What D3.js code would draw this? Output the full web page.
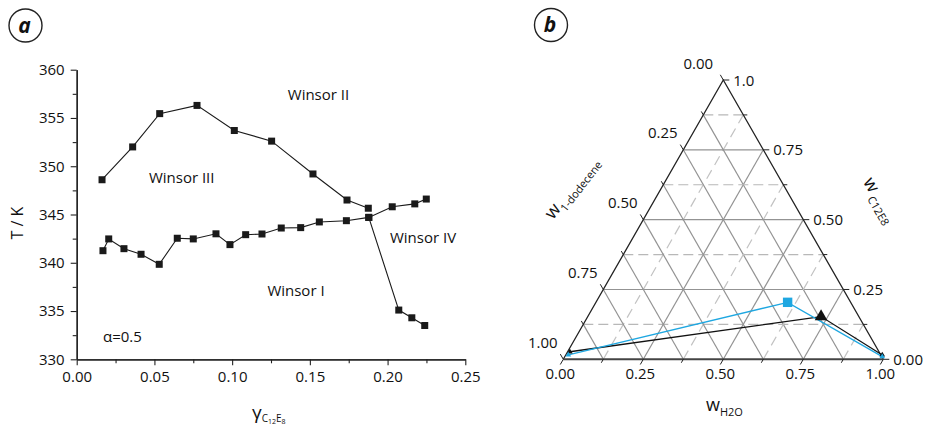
<!DOCTYPE html>
<html>
<head>
<meta charset="utf-8">
<script src="https://cdn.jsdelivr.net/npm/d3@7"></script>
<style>
  body { margin: 0; background: #fff; }
  svg { font-family: "Open Sans", sans-serif; fill: #111; }
</style>
</head>
<body>
<svg id="chart" width="930" height="425"></svg>
<script>
// panel a: phase boundaries T vs gamma
const upperX = [0.0163, 0.036, 0.0534, 0.0774, 0.1014, 0.1254, 0.152, 0.1739, 0.1876];
const upperT = [348.6, 352.0, 355.45, 356.3, 353.7, 352.6, 349.2, 346.5, 345.65];
const lowerX = [0.0169, 0.0206, 0.0304, 0.0414, 0.0531, 0.0647, 0.075, 0.0896, 0.0986, 0.1087,
                0.1192, 0.1316, 0.1441, 0.1561, 0.1735, 0.1879, 0.203, 0.2175, 0.2249];
const lowerT = [341.25, 342.47, 341.46, 340.88, 339.84, 342.54, 342.47, 343.0, 341.88, 342.91,
                342.98, 343.6, 343.64, 344.23, 344.36, 344.7, 345.8, 346.1, 346.6];
const dropX = [0.1879, 0.2072, 0.2156, 0.2239];
const dropT = [344.7, 335.1, 334.3, 333.5];
const xTicksA = [0, 0.05, 0.1, 0.15, 0.2, 0.25];
const yTicksA = [330, 335, 340, 345, 350, 355, 360];
const regionLabels = ["Winsor II", "Winsor III", "Winsor IV", "Winsor I"];

// panel b: ternary, compositions as [wH2O, wC12E8]
const blueH2O = [0.008, 0.599, 0.992];
const blueC12E8 = [0.0155, 0.204, 0.0094];
const blackH2O = [0.007, 0.729, 0.989];
const blackC12E8 = [0.027, 0.153, 0.0155];
const ternTicks = [0, 0.25, 0.5, 0.75, 1];
const bottomLabels = ["0.00", "0.25", "0.50", "0.75", "1.00"];
const leftLabels = ["0.00", "0.25", "0.50", "0.75", "1.00"];
const rightLabels = ["0.00", "0.25", "0.50", "0.75", "1.0"];

const svg = d3.select("#chart");

function circleLabel(cx, cy, txt) {
    svg.append("circle").attr("cx", cx).attr("cy", cy).attr("r", 16.5)
        .attr("fill", "none").attr("stroke", "#222").attr("stroke-width", 1.4);
    svg.append("text").attr("x", cx - 1).attr("y", cy + 7).attr("text-anchor", "middle")
        .style("font-size", "21px").style("font-weight", "bold").style("font-style", "italic").text(txt);
}

// ---------- panel a ----------
const x = d3.scaleLinear().domain([0, 0.25]).range([76.7, 465.3]);
const y = d3.scaleLinear().domain([330, 360]).range([359.3, 69.7]);

circleLabel(25.5, 25.5, "a");

const gA = svg.append("g");
const yMinor = d3.range(332.5, 360, 5);
const xMinor = d3.range(0.025, 0.25, 0.05);

gA.append("g").attr("transform", "translate(76.7,0)")
    .call(d3.axisLeft(y).tickValues(yMinor).tickSize(4).tickFormat("").tickSizeOuter(0));
gA.append("g").attr("transform", "translate(0,359.3)")
    .call(d3.axisBottom(x).tickValues(xMinor).tickSize(4).tickFormat("").tickSizeOuter(0));
gA.append("g").attr("transform", "translate(76.7,0)")
    .call(d3.axisLeft(y).tickValues(yTicksA).tickSize(6).tickPadding(6).tickSizeOuter(0));
gA.append("g").attr("transform", "translate(0,359.3)")
    .call(d3.axisBottom(x).tickValues(xTicksA).tickSize(6).tickPadding(6).tickFormat(d3.format(".2f")).tickSizeOuter(0));
gA.selectAll(".domain").attr("stroke", "#222").attr("stroke-width", 1.3);
gA.selectAll(".tick line").attr("stroke", "#222").attr("stroke-width", 1.1);
gA.selectAll(".tick text").style("font-size", "15px").style("font-family", "Open Sans").attr("fill", "#111");

const line = d3.line().x(d => x(d[0])).y(d => y(d[1]));
[[upperX, upperT], [lowerX, lowerT], [dropX, dropT]].forEach(([xs, ts]) => {
    const pts = xs.map((v, i) => [v, ts[i]]);
    gA.append("path").datum(pts).attr("fill", "none").attr("stroke", "#1a1a1a")
        .attr("stroke-width", 1.1).attr("d", line);
    gA.selectAll(null).data(pts).enter().append("rect")
        .attr("x", d => x(d[0]) - 3.5).attr("y", d => y(d[1]) - 3.5)
        .attr("width", 7).attr("height", 7).attr("fill", "#1a1a1a");
});

// label anchors (center x, baseline y) in pixels
const labelPos = [[318.5, 100], [181.7, 183.3], [423, 243], [296, 296]];
regionLabels.forEach((t, i) => {
    gA.append("text").attr("x", labelPos[i][0]).attr("y", labelPos[i][1])
        .attr("text-anchor", "middle").style("font-size", "15px").text(t);
});
gA.append("text").attr("x", 103).attr("y", 341.5).style("font-size", "15px").text("α=0.5");

gA.append("text").attr("transform", "translate(23,223) rotate(-90)")
    .attr("text-anchor", "middle").style("font-size", "16px").text("T / K");

const xl = gA.append("text").attr("x", 252).attr("y", 419).style("font-size", "19px");
xl.append("tspan").text("γ");
xl.append("tspan").attr("dy", 3).style("font-size", "10px").text("C");
xl.append("tspan").attr("dy", 1.5).style("font-size", "7px").text("12");
xl.append("tspan").attr("dy", -1.5).style("font-size", "10px").text("E");
xl.append("tspan").attr("dy", 1.5).style("font-size", "7px").text("8");

// ---------- panel b ----------
circleLabel(551, 25, "b");

const tx = d3.scaleLinear().domain([0, 1]).range([563.3, 883.3]);
const ty = d3.scaleLinear().domain([0, 1]).range([359.3, 80]);
// h = w_H2O, c = w_C12E8 (dodecene = 1 - h - c)
const P = (h, c) => [tx(h + c / 2), ty(c)];

const gB = svg.append("g");
const eighths = d3.range(1, 8).map(k => k / 8);
const isMajor = v => Math.abs(v * 4 - Math.round(v * 4)) < 1e-6;

eighths.forEach(v => {
    const maj = isMajor(v);
    // constant C12E8 (horizontal)
    let a = P(0, v), b = P(1 - v, v);
    gB.append("line").attr("x1", a[0]).attr("y1", a[1]).attr("x2", b[0]).attr("y2", b[1])
        .attr("stroke", maj ? "#939393" : "#b8b8b8").attr("stroke-width", 1.2)
        .attr("stroke-dasharray", maj ? null : "10,5");
    // constant H2O ("/")
    a = P(v, 0); b = P(v, 1 - v);
    gB.append("line").attr("x1", a[0]).attr("y1", a[1]).attr("x2", b[0]).attr("y2", b[1])
        .attr("stroke", maj ? "#939393" : "#c2c2c2").attr("stroke-width", 1.2)
        .attr("stroke-dasharray", maj ? null : "10,6");
    // constant dodecene ("\"), all solid
    a = P(1 - v, 0); b = P(0, 1 - v);
    gB.append("line").attr("x1", a[0]).attr("y1", a[1]).attr("x2", b[0]).attr("y2", b[1])
        .attr("stroke", "#939393").attr("stroke-width", 1.2);
});

// triangle frame
const A = P(0, 0), B = P(1, 0), C = P(0, 1);
gB.append("path").attr("d", `M${A}L${C}L${B}`).attr("fill", "none").attr("stroke", "#222").attr("stroke-width", 1.3);
gB.append("path").attr("d", `M${A}L${B}`).attr("stroke", "#444").attr("stroke-width", 2);

// ticks
const cos60 = 0.5, sin60 = Math.sqrt(3) / 2;
d3.range(0, 9).map(k => k / 8).forEach(v => {
    const len = isMajor(v) ? 6 : 4;
    // bottom: H2O, direction down-left
    let p = P(v, 0);
    gB.append("line").attr("x1", p[0]).attr("y1", p[1]).attr("x2", p[0] - len * cos60).attr("y2", p[1] + len * sin60)
        .attr("stroke", "#222");
    // right: C12E8, horizontal outward
    p = P(1 - v, v);
    gB.append("line").attr("x1", p[0]).attr("y1", p[1]).attr("x2", p[0] + len).attr("y2", p[1]).attr("stroke", "#222");
    // left: dodecene, direction up-left
    p = P(0, 1 - v);
    gB.append("line").attr("x1", p[0]).attr("y1", p[1]).attr("x2", p[0] - len * cos60).attr("y2", p[1] - len * sin60)
        .attr("stroke", "#222");
});

ternTicks.forEach((v, i) => {
    let p = P(v, 0);
    gB.append("text").attr("x", p[0] - 3).attr("y", p[1] + 20).attr("text-anchor", "middle")
        .style("font-size", "15px").text(bottomLabels[i]);
    p = P(1 - v, v);
    gB.append("text").attr("x", p[0] + 10).attr("y", p[1] + 5.5)
        .style("font-size", "15px").text(rightLabels[i]);
    p = P(0, 1 - v);
    gB.append("text").attr("x", p[0] - (i === 0 ? 25 : 20.5)).attr("y", p[1] - 11.5).attr("text-anchor", "middle")
        .style("font-size", "15px").text(leftLabels[i]);
});

// axis titles
const bt = gB.append("text").attr("x", 706).attr("y", 411).style("font-size", "18px");
bt.append("tspan").text("w");
bt.append("tspan").attr("dy", 5).style("font-size", "11px").text("H2O");

const lt = gB.append("text").attr("transform", "translate(576,191) rotate(-52)")
    .attr("text-anchor", "middle").style("font-size", "18px");
lt.append("tspan").text("w");
lt.append("tspan").attr("dy", 5).style("font-size", "11px").text("1-dodecene");

const rt = gB.append("text").attr("transform", "translate(875,203) rotate(60)")
    .attr("text-anchor", "middle").style("font-size", "18px");
rt.append("tspan").text("w");
rt.append("tspan").attr("dy", 5).attr("dx", 3).style("font-size", "11px").text("C12E8");

// data series
const tline = d3.line().x(d => P(d[0], d[1])[0]).y(d => P(d[0], d[1])[1]);
const blackPts = blackH2O.map((h, i) => [h, blackC12E8[i]]);
const bluePts = blueH2O.map((h, i) => [h, blueC12E8[i]]);
gB.append("path").datum(blackPts).attr("fill", "none").attr("stroke", "#111").attr("stroke-width", 1.3).attr("d", tline);
gB.append("path").datum(bluePts).attr("fill", "none").attr("stroke", "#1ea7e1").attr("stroke-width", 1.3).attr("d", tline);

const tri = d3.symbol().type(d3.symbolTriangle);
blackPts.forEach((d, i) => {
    const p = P(d[0], d[1]);
    gB.append("path").attr("transform", `translate(${p[0]},${p[1]})`)
        .attr("d", tri.size(i === 1 ? 70 : 14)()).attr("fill", "#111");
});
bluePts.forEach((d, i) => {
    const p = P(d[0], d[1]);
    if (i === 1) {
        gB.append("rect").attr("x", p[0] - 4.7).attr("y", p[1] - 4.7).attr("width", 9.4).attr("height", 9.4)
            .attr("fill", "#1ea7e1");
    } else {
        gB.append("path").attr("transform", `translate(${p[0]},${p[1]})`)
            .attr("d", tri.size(14)()).attr("fill", "#1ea7e1");
    }
});
</script>
</body>
</html>
